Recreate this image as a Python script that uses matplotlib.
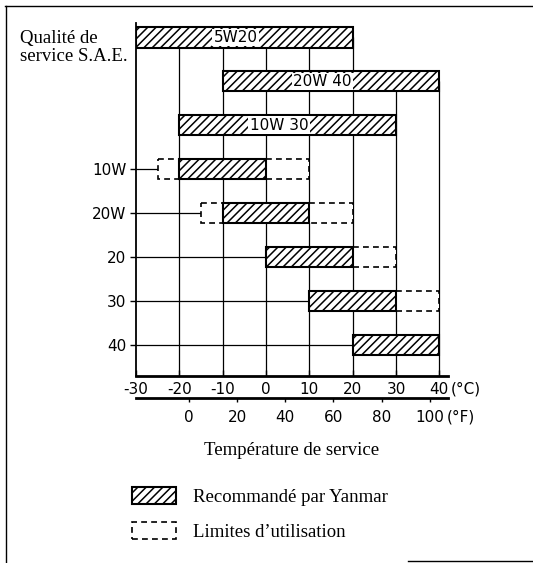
import numpy as np
import matplotlib.pyplot as plt
from matplotlib.lines import Line2D

plt.rcParams['axes.unicode_minus'] = False
plt.rcParams['hatch.linewidth'] = 1.1
plt.rcParams['font.family'] = 'DejaVu Sans'

# SAE grades, top to bottom
grades = ['5W20', '20W 40', '10W 30', '10W', '20W', '20', '30', '40']
# recommended range (deg C)
rec_lo = [-30, -10, -20, -20, -10, 0, 10, 20]
rec_hi = [20, 40, 30, 0, 10, 20, 30, 40]
# usage limits (row, from, to) in deg C
lim_row = [3, 3, 4, 4, 5, 6]
lim_lo = [-25, 0, -15, 10, 20, 30]
lim_hi = [-20, 10, -10, 20, 30, 40]
n_multi = 3   # multigrades are labelled inside their bar

c_ticks = [-30, -20, -10, 0, 10, 20, 30, 40]
f_ticks = [0, 20, 40, 60, 80, 100]

serif = 'Liberation Serif'

def c2f(c):
    return np.asarray(c) * 9.0 / 5.0 + 32.0

def f2c(f):
    return (np.asarray(f) - 32.0) * 5.0 / 9.0

W, H = 533, 563
fig = plt.figure(figsize=(W / 100, H / 100), dpi=100)
ax = fig.add_axes([136 / W, 1 - 376 / H, (448 - 136) / W, (376 - 23) / H])

rows = np.arange(len(grades))
ymin, ymax = 7.71, -0.33
ax.set_xlim(-30, 42)
ax.set_ylim(ymin, ymax)
bh = 0.46

ax.barh(rows, np.subtract(rec_hi, rec_lo), left=rec_lo, height=bh,
        color='white', edgecolor='black', linewidth=1.5, hatch='////',
        zorder=3, label='Recommandé par Yanmar')
ax.barh(lim_row, np.subtract(lim_hi, lim_lo), left=lim_lo, height=bh,
        color='white', edgecolor='black', linewidth=1.2,
        linestyle=(0, (3.5, 2.5)), zorder=2, label='Limites d\u2019utilisation')

# vertical grid, each line runs up to the highest bar that covers it
for x in c_ticks[1:]:
    top = min(i for i in rows if rec_lo[i] <= x <= rec_hi[i])
    ax.vlines(x, ymin, top, color='black', lw=0.9, zorder=1)

# leader lines from the axis to the first box of each single grade
for i in range(n_multi, len(grades)):
    starts = [rec_lo[i]] + [lo for r, lo in zip(lim_row, lim_lo) if r == i]
    ax.hlines(i, -30, min(starts), color='black', lw=0.9, zorder=1)

for i in range(n_multi):
    ax.text((rec_lo[i] + rec_hi[i]) / 2 - 2, i, grades[i], ha='center',
            va='center', fontsize=11, zorder=4,
            bbox=dict(facecolor='white', edgecolor='none', pad=1))

ax.set_yticks(rows[n_multi:])
ax.set_yticklabels(grades[n_multi:])
ax.tick_params(axis='y', direction='out', length=4, width=1, pad=3, labelsize=11)

ax.set_xticks(c_ticks)
ax.tick_params(axis='x', direction='in', length=4, width=1, pad=4, labelsize=11)

for s in ['top', 'right']:
    ax.spines[s].set_visible(False)
ax.spines['left'].set_linewidth(1.3)
ax.spines['bottom'].set_linewidth(2)

sec = ax.secondary_xaxis(-22 / 353, functions=(c2f, f2c))
sec.set_xticks(f_ticks)
sec.tick_params(direction='out', length=3, width=1, pad=6, labelsize=11)
sec.spines['bottom'].set_linewidth(2)
sec.set_xlabel('Température de service', family=serif, fontsize=13.5, labelpad=12)

ax.annotate('(°C)', xy=(40, 0), xycoords=('data', 'axes fraction'),
            xytext=(8, -4), textcoords='offset points', ha='left', va='top',
            fontsize=11)
ax.annotate('(°F)', xy=(f2c(100), -22 / 353), xycoords=('data', 'axes fraction'),
            xytext=(12, -8), textcoords='offset points', ha='left', va='top',
            fontsize=11)

fig.text(20 / W, 1 - 30 / H, 'Qualité de\nservice S.A.E.', family=serif,
         fontsize=13.5, ha='left', va='top', linespacing=1.05)

handles, labels = ax.get_legend_handles_labels()
fig.legend(handles, labels, loc='upper left', bbox_to_anchor=(132 / W, 1 - 487 / H),
           frameon=False, prop={'family': serif, 'size': 13.5},
           handlelength=2.35, handleheight=1.0, handletextpad=0.9,
           labelspacing=0.85, borderpad=0, borderaxespad=0)

# page frame
fig.add_artist(Line2D([5 / W, 1], [1 - 6 / H] * 2, transform=fig.transFigure, color='black', lw=1))
fig.add_artist(Line2D([6 / W] * 2, [0, 1 - 6 / H], transform=fig.transFigure, color='black', lw=1))
fig.add_artist(Line2D([408 / W, 1], [1 - 561 / H] * 2, transform=fig.transFigure, color='black', lw=1))

fig.savefig('out.png', dpi=100)
